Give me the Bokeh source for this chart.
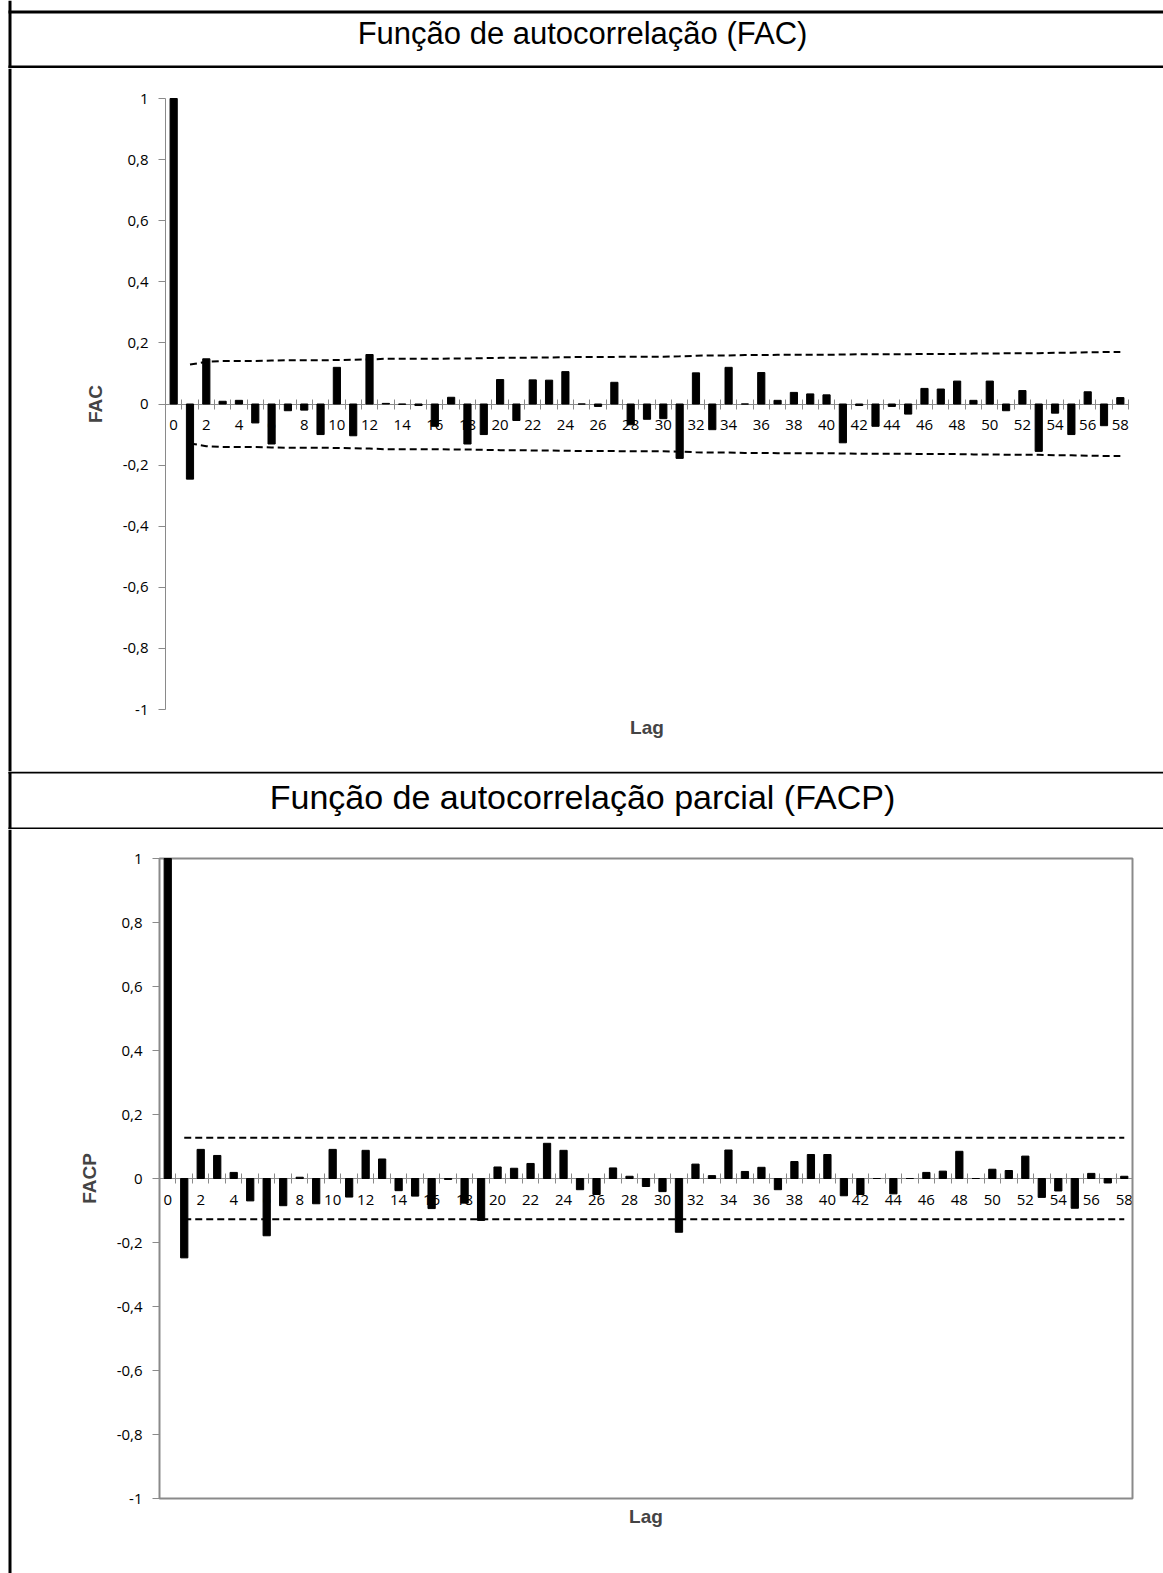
from bokeh.plotting import figure
from bokeh.layouts import column
from bokeh.models import (Range1d, LinearAxis, FixedTicker, BoxAnnotation, Label,
                          CustomJSTickFormatter)
from bokeh.embed import file_html
from bokeh.resources import INLINE

# ---------------- data ----------------
lags = list(range(59))

fac = [1.000, -0.246, 0.148, 0.009, 0.012, -0.062, -0.131, -0.022, -0.020, -0.100,
       0.120, -0.104, 0.162, 0.002, -0.001, -0.005, -0.073, 0.022, -0.131, -0.100,
       0.080, -0.054, 0.079, 0.078, 0.106, 0.000, -0.008, 0.071, -0.068, -0.050,
       -0.048, -0.178, 0.102, -0.084, 0.120, 0.000, 0.103, 0.012, 0.038, 0.033,
       0.030, -0.127, -0.005, -0.073, -0.008, -0.033, 0.051, 0.049, 0.075, 0.012,
       0.075, -0.022, 0.044, -0.155, -0.030, -0.100, 0.040, -0.071, 0.021]

# confidence band of the FAC (lags 1..58)
fac_band = [0.129, 0.138, 0.141, 0.141, 0.141, 0.142, 0.143, 0.143, 0.143, 0.144,
            0.145, 0.146, 0.148, 0.148, 0.148, 0.148, 0.149, 0.149, 0.150, 0.151,
            0.151, 0.152, 0.152, 0.153, 0.154, 0.154, 0.154, 0.155, 0.155, 0.155,
            0.156, 0.158, 0.159, 0.159, 0.160, 0.160, 0.161, 0.161, 0.161, 0.161,
            0.162, 0.163, 0.163, 0.163, 0.163, 0.164, 0.164, 0.164, 0.165, 0.165,
            0.166, 0.166, 0.166, 0.168, 0.168, 0.169, 0.170, 0.170]

facp = [1.000, -0.248, 0.091, 0.072, 0.019, -0.070, -0.179, -0.085, 0.004, -0.079,
        0.091, -0.058, 0.088, 0.061, -0.038, -0.055, -0.094, -0.003, -0.077, -0.131,
        0.036, 0.032, 0.047, 0.110, 0.088, -0.035, -0.050, 0.033, 0.007, -0.025,
        -0.041, -0.168, 0.045, 0.009, 0.089, 0.022, 0.035, -0.035, 0.053, 0.075,
        0.075, -0.054, -0.050, 0.000, -0.048, 0.000, 0.019, 0.023, 0.085, 0.000,
        0.029, 0.025, 0.070, -0.059, -0.039, -0.093, 0.016, -0.014, 0.007]

facp_limit = 0.127

y_tick_values = [-1, -0.8, -0.6, -0.4, -0.2, 0, 0.2, 0.4, 0.6, 0.8, 1]
y_tick_labels = ["-1", "-0,8", "-0,6", "-0,4", "-0,2", "0", "0,2", "0,4", "0,6", "0,8", "1"]
x_tick_values = list(range(0, 59, 2))

title_1 = "Função de autocorrelação (FAC)"
title_2 = "Função de autocorrelação parcial (FACP)"

# ---------------- style ----------------
W = 1163
AX = "#8a8a8a"
TICK_FONT = "Open Sans"
TICK_SIZE = "15px"
TITLE_FONT = "Liberation Sans"
X0, X1 = -0.5, 58.5   # category axis extent
Y0, Y1 = -1.0, 1.0


def base_fig(height, x_range, y_range):
    f = figure(width=W, height=height, x_range=x_range, y_range=y_range,
               output_backend="svg", toolbar_location=None, x_axis_type=None,
               y_axis_type=None, min_border=0, min_border_left=0, min_border_right=0,
               min_border_top=0, min_border_bottom=0, outline_line_color=None)
    f.background_fill_color = "white"
    f.border_fill_color = "white"
    return f


def black_box(l, r, t, b, **kw):
    return BoxAnnotation(left=l, right=r, top=t, bottom=b, fill_color="black",
                         fill_alpha=1, line_color=None, **kw)


def title_cell(text, height, lines, size, text_y):
    t = base_fig(height, Range1d(0, W), Range1d(height, 0))
    for (a, b) in lines:
        t.add_layout(black_box(8, W, a, b))
    t.add_layout(black_box(8, 11, 0, height))
    t.add_layout(Label(x=582, y=text_y, text=text, text_align="center",
                       text_baseline="middle", text_font=TITLE_FONT,
                       text_font_size=size, text_color="black"))
    return t


def chart(values, height, fl, fr, ft, fb, ylabel, outline):
    # fl, fr, ft, fb: pixel position of the plotting area inside this cell
    kx = (fr - fl) / (X1 - X0)
    ky = (fb - ft) / (Y1 - Y0)
    xr = Range1d(X0 - fl / kx, X1 + (W - fr) / kx)
    yr = Range1d(Y0 - (height - fb) / ky, Y1 + ft / ky)
    p = base_fig(height, xr, yr)
    p.extra_x_ranges = {"px": Range1d(0, W)}
    p.extra_y_ranges = {"py": Range1d(height, 0)}

    p.vbar(x=lags, top=values, bottom=0, width=0.44, color="black", level="overlay")

    if outline:
        p.add_layout(BoxAnnotation(left=X0, right=X1, bottom=Y0, top=Y1, fill_alpha=0,
                                   line_color=AX, line_alpha=1, line_width=2))

    yaxis = LinearAxis(ticker=FixedTicker(ticks=y_tick_values),
                       major_label_overrides=dict(zip(y_tick_values, y_tick_labels)),
                       axis_label=ylabel, fixed_location=X0, bounds=(Y0, Y1))
    yaxis.axis_line_color = AX
    yaxis.major_tick_line_color = AX
    yaxis.major_tick_in = 0
    yaxis.major_tick_out = 7
    yaxis.minor_tick_line_color = None
    yaxis.major_label_standoff = 10
    yaxis.major_label_text_font = TICK_FONT
    yaxis.major_label_text_font_size = TICK_SIZE
    yaxis.major_label_text_color = "black"
    yaxis.axis_label_text_font = TITLE_FONT
    yaxis.axis_label_text_font_style = "bold"
    yaxis.axis_label_text_font_size = "19px"
    yaxis.axis_label_standoff = 14
    p.add_layout(yaxis, "left")

    # category boundary ticks on the zero line
    bticks = LinearAxis(ticker=FixedTicker(ticks=[k - 0.5 for k in range(60)]),
                        formatter=CustomJSTickFormatter(code="return ''"),
                        fixed_location=0, bounds=(X0, X1))
    bticks.axis_line_color = AX
    bticks.major_tick_line_color = AX
    bticks.major_tick_in = 5
    bticks.major_tick_out = 5
    bticks.minor_tick_line_color = None
    p.add_layout(bticks, "below")

    # lag labels
    xlab = LinearAxis(ticker=FixedTicker(ticks=x_tick_values), fixed_location=0,
                      bounds=(X0, X1))
    xlab.axis_line_color = None
    xlab.major_tick_line_color = None
    xlab.minor_tick_line_color = None
    xlab.major_tick_out = 0
    xlab.major_tick_in = 0
    xlab.major_label_standoff = 16
    xlab.major_label_text_font = TICK_FONT
    xlab.major_label_text_font_size = TICK_SIZE
    xlab.major_label_text_color = "black"
    p.add_layout(xlab, "below")

    # axis title "Lag" under the plotting area
    lag_axis = LinearAxis(ticker=FixedTicker(ticks=[]), axis_label="Lag",
                          fixed_location=Y0, bounds=(X0, X1))
    lag_axis.axis_line_color = None
    lag_axis.major_tick_line_color = None
    lag_axis.minor_tick_line_color = None
    lag_axis.major_tick_out = 0
    lag_axis.major_tick_in = 0
    lag_axis.major_label_standoff = 0
    lag_axis.axis_label_standoff = 7
    lag_axis.axis_label_text_font = TITLE_FONT
    lag_axis.axis_label_text_font_style = "bold"
    lag_axis.axis_label_text_font_size = "19px"
    p.add_layout(lag_axis, "below")

    # left border of the table cell
    p.add_layout(black_box(8, 11, 0, height, x_range_name="px", y_range_name="py"))
    return p


# cell 1: title (page y 0..68)
t1 = title_cell(title_1, 68, [(10, 13), (65, 68)], "31px", 33)

# cell 2: FAC chart (page y 68..771): plot area x 165..1128, y 98..709
p1 = chart(fac, 703, 165, 1128, 30, 641, "FAC", False)
band_x = lags[1:]
p1.line(x=band_x, y=fac_band, line_color="black", line_width=2, line_dash="7 4")
p1.line(x=band_x, y=[-v for v in fac_band], line_color="black", line_width=2, line_dash="7 4")

# cell 3: title (page y 771..829)
t2 = title_cell(title_2, 58, [(0, 2), (56, 58)], "34px", 25)

# cell 4: FACP chart (page y 829..1573): plot area x 159..1132, y 858..1498
p2 = chart(facp, 744, 159, 1132, 29, 669, "FACP", True)
p2.line(x=[band_x[0], band_x[-1]], y=[facp_limit, facp_limit], line_color="black",
        line_width=2, line_dash="7 4")
p2.line(x=[band_x[0], band_x[-1]], y=[-facp_limit, -facp_limit], line_color="black",
        line_width=2, line_dash="7 4")

layout = column(t1, p1, t2, p2, spacing=0)

open("out.html", "w").write(file_html(layout, INLINE))
